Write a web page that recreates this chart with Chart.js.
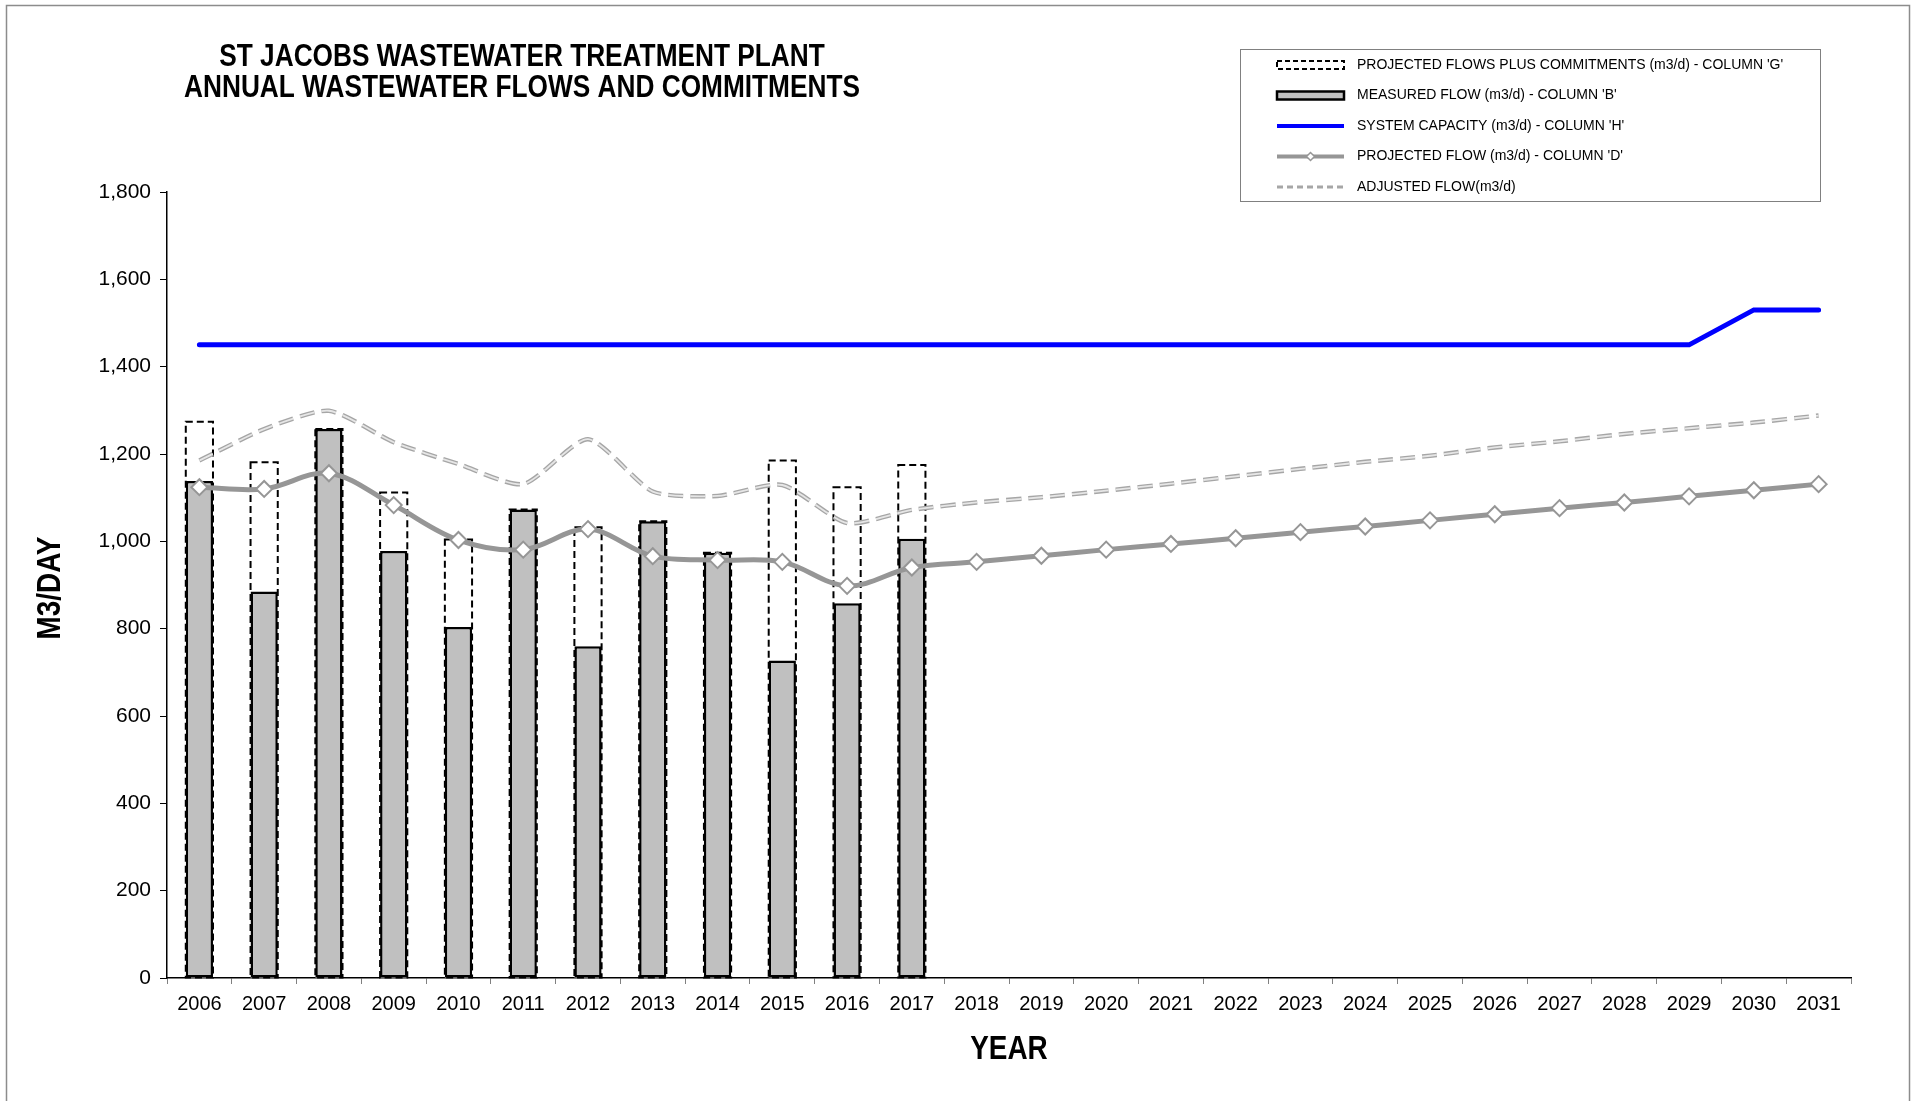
<!DOCTYPE html>
<html>
<head>
<meta charset="utf-8">
<title>St Jacobs WWTP - Annual Wastewater Flows and Commitments</title>
<script src="https://cdn.jsdelivr.net/npm/chart.js@4.4.0/dist/chart.umd.min.js"></script>
<style>
  html, body { margin: 0; padding: 0; background: #fff; }
  canvas { display: block; }
</style>
</head>
<body>
<canvas id="flowChart" width="1919" height="1101"></canvas>
<script>
var years = ['2006', '2007', '2008', '2009', '2010', '2011', '2012', '2013', '2014',
    '2015', '2016', '2017', '2018', '2019', '2020', '2021', '2022', '2023', '2024',
    '2025', '2026', '2027', '2028', '2029', '2030', '2031'];

// m3/d
var measuredFlow = [1138, 885, 1257, 978, 804, 1073, 760, 1046, 974, 727, 858, 1006];
var projectedPlusCommitments = [1274, 1181, 1257, 1112, 1004, 1073, 1032, 1046, 974, 1185, 1124, 1175];
var systemCapacity = [1450, 1450, 1450, 1450, 1450, 1450, 1450, 1450, 1450, 1450, 1450, 1450,
    1450, 1450, 1450, 1450, 1450, 1450, 1450, 1450, 1450, 1450, 1450, 1450, 1530, 1530];
var projectedFlow = [1124, 1120, 1156, 1083, 1003, 981, 1028, 966, 957, 953, 898, 940,
    953, 967, 981, 994, 1007, 1021, 1034, 1048, 1062, 1076, 1089, 1103, 1117, 1131];
var adjustedFlow = [1185, 1257, 1299, 1227, 1177, 1131, 1234, 1114, 1104, 1129, 1042, 1072,
    1089, 1101, 1116, 1132, 1149, 1166, 1182, 1196, 1215, 1229, 1246, 1259, 1272, 1288];
var yTickValues = [0, 200, 400, 600, 800, 1000, 1200, 1400, 1600, 1800];

var titleLines = ['ST JACOBS WASTEWATER TREATMENT PLANT', 'ANNUAL WASTEWATER FLOWS AND COMMITMENTS'];
var xAxisTitle = 'YEAR';
var yAxisTitle = 'M3/DAY';

var SANS = "'Liberation Sans', Arial, sans-serif";

// draws condensed text (no narrow font installed)
function narrowText(ctx, text, x, y, rot) {
    ctx.save();
    ctx.translate(x, y);
    if (rot) ctx.rotate(rot);
    ctx.scale(0.82, 1);
    ctx.fillText(text, 0, 0);
    ctx.restore();
}

// dashed outline for the commitments bars (bar element has no borderDash)
var dashedBars = {
    id: 'dashedBars',
    afterDatasetDraw: function (chart, args) {
        var ctx = chart.ctx;
        if (args.index === 0) {
            ctx.save();
            ctx.setLineDash([7, 4]);
            ctx.lineWidth = 2;
            ctx.strokeStyle = '#000';
            args.meta.data.forEach(function (el) {
                if (el.skip) return;
                var p = el.getProps(['x', 'y', 'base', 'width'], true);
                ctx.strokeRect(p.x - p.width / 2, p.y, p.width, p.base - p.y);
            });
            ctx.restore();
        }
        if (args.index === 4) {
            // lighter core so the dotted line looks hollow like the original
            ctx.save();
            ctx.beginPath();
            args.meta.dataset.path(ctx);
            ctx.setLineDash([15, 7]);
            ctx.lineWidth = 1.8;
            ctx.strokeStyle = '#e6e6e6';
            ctx.stroke();
            ctx.restore();
        }
    }
};

var frameAndText = {
    id: 'frameAndText',
    afterDraw: function (chart) {
        var ctx = chart.ctx;
        var area = chart.chartArea;
        ctx.save();
        // outer frame
        ctx.strokeStyle = '#8c8c8c';
        ctx.lineWidth = 1.5;
        ctx.strokeRect(6.5, 5.5, 1903, 1110);

        ctx.fillStyle = '#000';
        ctx.textAlign = 'center';
        ctx.textBaseline = 'middle';

        // title
        ctx.font = 'bold 32px ' + SANS;
        narrowText(ctx, titleLines[0], 522, 57.5);
        narrowText(ctx, titleLines[1], 522, 88);

        // axis titles
        ctx.font = 'bold 34px ' + SANS;
        narrowText(ctx, xAxisTitle, (area.left + area.right) / 2, 1050);
        ctx.save();
        ctx.translate(51, (area.top + area.bottom) / 2 + 3);
        ctx.rotate(-Math.PI / 2);
        ctx.scale(0.82, 1);
        ctx.fillText(yAxisTitle, 0, 0);
        ctx.restore();

        // legend box
        ctx.strokeStyle = '#808080';
        ctx.lineWidth = 1;
        ctx.strokeRect(1240.5, 49.5, 580, 152);
        var sx = 1277, sw = 67;
        ctx.textAlign = 'left';
        ctx.font = '14px ' + SANS;
        chart.data.datasets.forEach(function (ds, i) {
            var y = 65 + i * 30.5;
            ctx.save();
            if (i === 0) {
                ctx.fillStyle = '#fff';
                ctx.fillRect(sx, y - 4, sw, 8);
                ctx.setLineDash([5, 3]);
                ctx.lineWidth = 2;
                ctx.strokeStyle = '#000';
                ctx.strokeRect(sx, y - 4, sw, 8);
            } else if (i === 1) {
                ctx.fillStyle = ds.backgroundColor;
                ctx.fillRect(sx, y - 4, sw, 8);
                ctx.lineWidth = 2.5;
                ctx.strokeStyle = '#000';
                ctx.strokeRect(sx, y - 4, sw, 8);
            } else {
                ctx.beginPath();
                ctx.moveTo(sx, y);
                ctx.lineTo(sx + sw, y);
                ctx.strokeStyle = ds.borderColor;
                ctx.lineWidth = i === 4 ? 3 : 4;
                if (i === 4) ctx.setLineDash([6, 4]);
                ctx.stroke();
                if (i === 3) {
                    ctx.beginPath();
                    ctx.moveTo(sx + sw / 2 - 4, y);
                    ctx.lineTo(sx + sw / 2, y - 4);
                    ctx.lineTo(sx + sw / 2 + 4, y);
                    ctx.lineTo(sx + sw / 2, y + 4);
                    ctx.closePath();
                    ctx.fillStyle = '#fff';
                    ctx.fill();
                    ctx.lineWidth = 1.5;
                    ctx.stroke();
                }
            }
            ctx.restore();
            ctx.fillStyle = '#000';
            ctx.fillText(ds.label, 1357, y);
        });
        ctx.restore();
    }
};

var ctx = document.getElementById('flowChart').getContext('2d');

var chart = new Chart(ctx, {
    type: 'bar',
    data: {
        labels: years,
        datasets: [{
            type: 'bar',
            label: "PROJECTED FLOWS PLUS COMMITMENTS (m3/d) - COLUMN 'G'",
            data: projectedPlusCommitments,
            backgroundColor: '#ffffff',
            borderWidth: 0,
            grouped: false,
            barPercentage: 0.42,
            categoryPercentage: 1,
            order: 5
        }, {
            type: 'bar',
            label: "MEASURED FLOW (m3/d) - COLUMN 'B'",
            data: measuredFlow,
            backgroundColor: '#c0c0c0',
            borderColor: '#000000',
            borderWidth: 2.5,
            borderSkipped: false,
            grouped: false,
            barPercentage: 0.42,
            categoryPercentage: 1,
            order: 4
        }, {
            type: 'line',
            label: "SYSTEM CAPACITY (m3/d) - COLUMN 'H'",
            data: systemCapacity,
            borderColor: '#0000ff',
            borderWidth: 5,
            borderCapStyle: 'round',
            pointRadius: 0,
            tension: 0,
            order: 2
        }, {
            type: 'line',
            label: "PROJECTED FLOW (m3/d) - COLUMN 'D'",
            data: projectedFlow,
            borderColor: '#969696',
            borderWidth: 5,
            tension: 0.35,
            pointStyle: 'rectRot',
            pointRadius: 8,
            pointBackgroundColor: '#ffffff',
            pointBorderColor: '#969696',
            pointBorderWidth: 2,
            order: 0
        }, {
            type: 'line',
            label: 'ADJUSTED FLOW(m3/d)',
            data: adjustedFlow,
            borderColor: '#a6a6a6',
            borderWidth: 4.5,
            borderDash: [15, 7],
            tension: 0.22,
            pointRadius: 0,
            order: 1
        }]
    },
    options: {
        responsive: false,
        animation: false,
        devicePixelRatio: 1,
        layout: { padding: { top: 192, right: 68, left: 0, bottom: 0 } },
        plugins: {
            legend: { display: false },
            title: { display: false },
            tooltip: { enabled: false }
        },
        scales: {
            x: {
                offset: true,
                grid: { offset: true, drawOnChartArea: false, tickLength: 6, color: '#808080' },
                border: { color: '#000', width: 1.5 },
                ticks: { color: '#000', font: { family: SANS, size: 20 }, padding: 8, autoSkip: false, maxRotation: 0 },
                afterFit: function (scale) { scale.height = 123; }
            },
            y: {
                min: 0,
                max: 1800,
                afterBuildTicks: function (scale) {
                    scale.ticks = yTickValues.map(function (v) { return { value: v }; });
                },
                ticks: {
                    color: '#000', font: { family: SANS, size: 21 }, padding: 9,
                    callback: function (v) { return v.toLocaleString('en-US'); }
                },
                grid: { drawOnChartArea: false, tickLength: 7, color: '#000' },
                border: { color: '#000', width: 1.5 },
                afterFit: function (scale) { scale.width = 167; }
            }
        }
    },
    plugins: [dashedBars, frameAndText]
});
</script>
</body>
</html>
